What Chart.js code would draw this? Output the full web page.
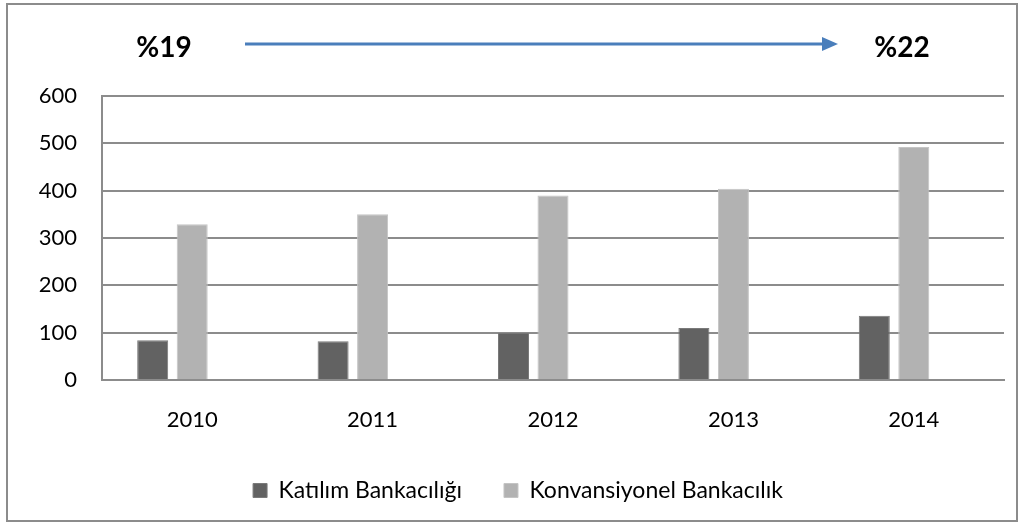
<!DOCTYPE html>
<html lang="tr">
<head>
<meta charset="utf-8">
<script src="https://cdn.jsdelivr.net/npm/chart.js@4.4.1/dist/chart.umd.min.js"></script>
<style>
    body { margin: 0; background: #fff; }
    #kutu { position: relative; width: 1025px; height: 530px; }
    #cerceve { position: absolute; left: 6px; top: 3px; width: 1008px; height: 515px; border: 2px solid #8c8c8c; pointer-events: none; }
</style>
</head>
<body>
<div id="kutu">
    <canvas id="bankaChart" width="1025" height="530"></canvas>
    <div id="cerceve"></div>
</div>
<script>
// Yıllar ve seriler
const yillar = ['2010', '2011', '2012', '2013', '2014'];
const katilim = [84, 82, 100, 110, 136];
const konvansiyonel = [329, 350, 390, 404, 492];
const bosSeri = [null, null, null, null, null]; // grafikte boş duran üçüncü seri
const yTicks = [0, 100, 200, 300, 400, 500, 600];
const oranBaslangic = '%19';
const oranBitis = '%22';

const yazi = 'Lato, "Open Sans", sans-serif';

// Üstteki ok ve yüzdeler
const okPlugin = {
    id: 'okPlugin',
    afterDraw(chart) {
        const ctx = chart.ctx;
        const alan = chart.chartArea;
        const y = alan.top - 52;
        ctx.save();
        ctx.fillStyle = '#000';
        ctx.font = 'bold 28px ' + yazi;
        ctx.textAlign = 'center';
        ctx.textBaseline = 'middle';
        ctx.fillText(oranBaslangic, alan.left + 62, y + 4);
        ctx.fillText(oranBitis, alan.right - 102, y + 4);

        ctx.strokeStyle = '#4a7ebb';
        ctx.fillStyle = '#4a7ebb';
        ctx.lineWidth = 3;
        ctx.beginPath();
        ctx.moveTo(alan.left + 143, y);
        ctx.lineTo(alan.right - 180, y);
        ctx.stroke();
        ctx.beginPath();
        ctx.moveTo(alan.right - 182, y - 7);
        ctx.lineTo(alan.right - 166, y);
        ctx.lineTo(alan.right - 182, y + 7);
        ctx.closePath();
        ctx.fill();
        ctx.restore();
    }
};

var ctx = document.getElementById('bankaChart').getContext('2d');
var bankaChart = new Chart(ctx, {
    type: 'bar',
    data: {
        labels: yillar,
        datasets: [{
            label: 'Katılım Bankacılığı',
            data: katilim,
            backgroundColor: '#626262',
            borderColor: '#7a7a7a',
            borderWidth: 1
        }, {
            label: 'Konvansiyonel Bankacılık',
            data: konvansiyonel,
            backgroundColor: '#b2b2b2',
            borderColor: '#c4c4c4',
            borderWidth: 1
        }, {
            label: '',
            data: bosSeri,
            backgroundColor: '#ffffff'
        }]
    },
    options: {
        responsive: false,
        animation: false,
        categoryPercentage: 0.657,
        barPercentage: 0.785,
        layout: {
            padding: { top: 96, left: 32, right: 21, bottom: 18 }
        },
        plugins: {
            tooltip: { enabled: false },
            legend: {
                position: 'bottom',
                labels: {
                    filter: item => item.text !== '',
                    boxWidth: 14,
                    boxHeight: 14,
                    padding: 42,
                    color: '#000',
                    font: { family: yazi, size: 23 }
                }
            }
        },
        scales: {
            x: {
                grid: { display: false },
                border: { display: true, color: '#8c8c8c', width: 2 },
                ticks: {
                    color: '#000',
                    padding: 19,
                    font: { family: yazi, size: 22 }
                },
                afterFit: s => { s.height = 57; }
            },
            y: {
                min: 0,
                max: 600,
                afterBuildTicks: s => { s.ticks = yTicks.map(v => ({ value: v })); },
                grid: { color: '#8c8c8c', lineWidth: 2, drawTicks: false },
                border: { display: true, color: '#8c8c8c', width: 2 },
                ticks: {
                    color: '#000',
                    padding: 25,
                    font: { family: yazi, size: 22 }
                },
                afterFit: s => { s.width = 70; }
            }
        }
    },
    plugins: [okPlugin]
});
</script>
</body>
</html>
